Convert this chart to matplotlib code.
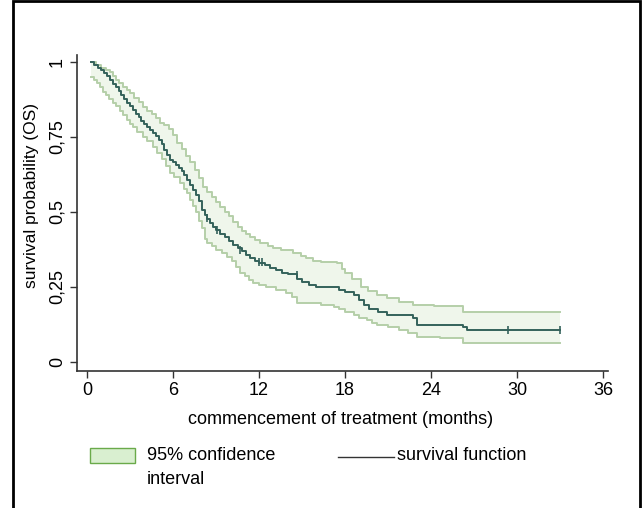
import matplotlib.pyplot as plt
from matplotlib.patches import Rectangle
from matplotlib.lines import Line2D

plt.rcParams['font.family'] = ['Liberation Sans', 'DejaVu Sans']

# Kaplan-Meier estimate
t_surv = [0.3, 0.5, 0.8, 1.0, 1.2, 1.4, 1.6, 1.8, 2.0, 2.2, 2.4, 2.6, 2.8, 3.0, 3.2, 3.4,
          3.6, 3.8, 4.0, 4.2, 4.4, 4.6, 4.8, 5.0, 5.2, 5.4, 5.6, 5.8, 6.0, 6.2, 6.4, 6.6,
          6.8, 7.0, 7.2, 7.4, 7.6, 7.8, 8.0, 8.2, 8.4, 8.6, 8.8, 9.0, 9.3, 9.6, 9.9, 10.2,
          10.5, 10.8, 11.1, 11.4, 11.7, 12.0, 12.4, 12.8, 13.2, 13.6, 14.0, 14.65, 15.0,
          15.5, 16.0, 17.6, 18.0, 18.6, 19.0, 19.3, 19.7, 20.3, 20.9, 22.75, 23.0, 26.2,
          26.5, 33.0]
s_surv = [1.0, 0.99, 0.98, 0.972, 0.962, 0.952, 0.94, 0.928, 0.915, 0.902, 0.89, 0.877,
          0.863, 0.852, 0.84, 0.828, 0.815, 0.803, 0.793, 0.783, 0.773, 0.763, 0.753, 0.74,
          0.725, 0.708, 0.69, 0.673, 0.665, 0.655, 0.645, 0.635, 0.622, 0.607, 0.59, 0.572,
          0.556, 0.535, 0.508, 0.49, 0.475, 0.462, 0.45, 0.44, 0.428, 0.415, 0.402, 0.39,
          0.38, 0.37, 0.358, 0.347, 0.338, 0.33, 0.322, 0.313, 0.305, 0.297, 0.293, 0.275,
          0.265, 0.257, 0.25, 0.24, 0.232, 0.222, 0.205, 0.19, 0.175, 0.165, 0.157, 0.147,
          0.123, 0.117, 0.107, 0.107]

t_upper = [0.3, 0.6, 1.0, 1.3, 1.6, 1.8, 2.0, 2.2, 2.5, 2.8, 3.0, 3.3, 3.6, 3.9, 4.2, 4.5,
           4.8, 5.1, 5.4, 5.7, 6.0, 6.3, 6.6, 6.9, 7.2, 7.5, 7.8, 8.1, 8.4, 8.7, 9.0, 9.3,
           9.6, 9.9, 10.2, 10.5, 10.8, 11.1, 11.4, 11.7, 12.1, 12.6, 13.0, 13.5, 14.4, 14.9,
           15.3, 15.8, 16.3, 17.45, 17.8, 18.0, 18.5, 19.1, 19.6, 20.2, 20.9, 21.8, 22.75,
           24.2, 26.2, 33.0]
s_upper = [1.0, 0.99, 0.98, 0.973, 0.965, 0.952, 0.94, 0.93, 0.915, 0.905, 0.897, 0.88,
           0.865, 0.85, 0.838, 0.826, 0.812, 0.798, 0.79, 0.778, 0.755, 0.73, 0.71, 0.685,
           0.665, 0.64, 0.612, 0.583, 0.567, 0.55, 0.533, 0.517, 0.5, 0.485, 0.468, 0.45,
           0.437, 0.425, 0.415, 0.405, 0.397, 0.388, 0.38, 0.373, 0.363, 0.352, 0.345,
           0.338, 0.333, 0.33, 0.31, 0.297, 0.275, 0.25, 0.235, 0.222, 0.213, 0.2, 0.19,
           0.185, 0.167, 0.167]

t_lower = [0.3, 0.5, 0.7, 0.9, 1.1, 1.3, 1.5, 1.8, 2.0, 2.3, 2.5, 2.8, 3.0, 3.2, 3.5, 3.9,
           4.2, 4.6, 4.9, 5.2, 5.5, 5.8, 6.1, 6.5, 6.8, 7.0, 7.2, 7.4, 7.6, 7.8, 8.0, 8.2,
           8.4, 8.7, 9.0, 9.4, 9.8, 10.1, 10.4, 10.7, 11.0, 11.3, 11.6, 12.0, 12.5, 13.2,
           13.9, 14.3, 14.65, 16.3, 17.2, 17.6, 18.0, 18.6, 19.0, 19.5, 19.9, 20.2, 21.0,
           21.8, 22.4, 23.0, 24.6, 26.2, 33.0]
s_lower = [0.95, 0.94, 0.93, 0.915, 0.9, 0.89, 0.878, 0.863, 0.852, 0.838, 0.823, 0.805,
           0.793, 0.783, 0.768, 0.75, 0.735, 0.717, 0.697, 0.675, 0.652, 0.63, 0.615, 0.595,
           0.578, 0.563, 0.54, 0.52, 0.5, 0.47, 0.445, 0.41, 0.397, 0.385, 0.373, 0.362,
           0.35, 0.335, 0.317, 0.297, 0.285, 0.273, 0.263, 0.255, 0.25, 0.24, 0.23, 0.215,
           0.197, 0.19, 0.183, 0.176, 0.168, 0.157, 0.148, 0.14, 0.13, 0.123, 0.115, 0.107,
           0.095, 0.083, 0.08, 0.063, 0.063]

# censored observations
t_cens = [8.4, 9.1, 10.7, 12.0, 12.2, 14.65, 29.4, 33.0]
s_cens = [0.48, 0.44, 0.373, 0.333, 0.333, 0.29, 0.107, 0.107]

x_ticks = [0, 6, 12, 18, 24, 30, 36]
y_ticks = [0, 0.25, 0.5, 0.75, 1]
y_labels = ['0', '0,25', '0,5', '0,75', '1']

fig = plt.figure(figsize=(6.44, 5.08), dpi=100)
# outer frame (bottom edge falls outside the image)
fig.patches.append(Rectangle((13/644, -0.02), 627/644, 1.018, transform=fig.transFigure,
                             fill=False, edgecolor='black', linewidth=2))

ax = fig.add_axes([77/644, 1 - 371/508, 531/644, 316/508])
ax.fill_between(t_upper, s_upper, 0, step='post', color='#eff6eb', linewidth=0)
ax.fill_between(t_lower, s_lower, 0, step='post', color='white', linewidth=0)
ax.step(t_upper, s_upper, where='post', color='#b5cfa9', linewidth=1.4)
ax.step(t_lower, s_lower, where='post', color='#b5cfa9', linewidth=1.4)
ax.step(t_surv, s_surv, where='post', color='#34625b', linewidth=1.4)
ax.scatter(t_cens, s_cens, marker='|', s=40, color='#34625b', linewidths=1.2)

ax.set_xlim(-0.7, 36.35)
ax.set_ylim(-0.03, 1.023)
ax.set_xticks(x_ticks)
ax.set_yticks(y_ticks)
ax.set_yticklabels(y_labels, rotation=90, va='center')
ax.tick_params(length=5, width=1, color='#333333', labelsize=13, pad=3)
for lab in ax.get_xticklabels() + ax.get_yticklabels():
    lab.set_family(['Liberation Sans Narrow', 'Liberation Sans', 'DejaVu Sans'])
for side in ['top', 'right']:
    ax.spines[side].set_visible(False)
for side in ['left', 'bottom']:
    ax.spines[side].set_color('#333333')
    ax.spines[side].set_linewidth(1.2)

fig.text(341/644, 1 - 420/508, 'commencement of treatment (months)', ha='center', va='center',
         fontsize=13)
fig.text(32/644, 1 - 195/508, 'survival probability (OS)', ha='center', va='center',
         rotation=90, fontsize=12.5)

# legend
fig.patches.append(Rectangle((90/644, 1 - 463/508), 45/644, 15/508, transform=fig.transFigure,
                             facecolor='#d9efd0', edgecolor='#6aaa4a', linewidth=1))
fig.text(147/644, 1 - 456/508, '95% confidence', ha='left', va='center', fontsize=13)
fig.text(147/644, 1 - 480/508, 'interval', ha='left', va='center', fontsize=13)
fig.lines.append(Line2D([338/644, 394/644], [1 - 457/508, 1 - 457/508],
                        transform=fig.transFigure, color='#333333', linewidth=1))
fig.text(397/644, 1 - 456/508, 'survival function', ha='left', va='center', fontsize=13)

fig.savefig('out.png', dpi=100)
